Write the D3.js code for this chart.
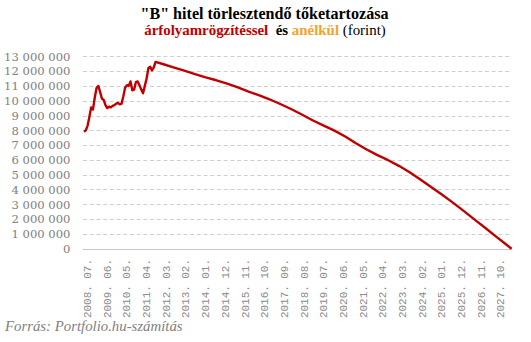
<!DOCTYPE html>
<html>
<head>
<meta charset="utf-8">
<script src="https://cdn.jsdelivr.net/npm/d3@7"></script>
<style>
  html, body { margin: 0; padding: 0; background: #fff; }
  svg { display: block; }
</style>
</head>
<body>
<svg id="chart" width="531" height="342"></svg>
<script>
// ---- Data ----
const months = [
  "2008.07","2008.08","2008.09","2008.10","2008.11","2008.12",
  "2009.01","2009.02","2009.03","2009.04","2009.05","2009.06",
  "2009.07","2009.08","2009.09","2009.10","2009.11","2009.12",
  "2010.01","2010.02","2010.03","2010.04","2010.05","2010.06",
  "2010.07","2010.08","2010.09","2010.10","2010.11","2010.12",
  "2011.01","2011.02","2011.03","2011.04","2011.05","2011.06",
  "2011.07","2011.08","2011.09","2011.10","2011.11",
  "2012.03","2012.09","2013.03","2013.09","2014.03","2014.09",
  "2015.03","2015.09","2016.03","2016.09","2017.03","2017.09",
  "2018.03","2018.09","2019.03","2019.09","2020.03","2020.09",
  "2021.03","2021.09","2022.03","2022.09","2023.03","2023.09",
  "2024.03","2024.09","2025.03","2025.09","2026.03","2026.09",
  "2027.03","2027.09","2028.03","2028.06"
];
const debt = [
  7900000, 8000000, 8300000, 8900000, 9550000, 9400000,
  10200000, 10850000, 11000000, 10600000, 10150000, 10050000,
  9700000, 9500000, 9600000, 9550000, 9650000, 9700000,
  9800000, 9850000, 9750000, 9800000, 10300000, 10900000,
  11050000, 11000000, 11300000, 10700000, 10750000, 11250000,
  11300000, 11050000, 10750000, 10500000, 11000000, 11500000,
  12200000, 12300000, 12050000, 12250000, 12620000,
  12480000, 12250000, 12030000, 11800000, 11580000, 11380000,
  11150000, 10900000, 10620000, 10360000, 10080000, 9760000,
  9420000, 9050000, 8660000, 8320000, 7980000, 7580000,
  7120000, 6700000, 6320000, 5980000, 5600000, 5170000,
  4670000, 4170000, 3660000, 3130000, 2570000, 2000000,
  1430000, 850000, 280000, 0
];
const xTickLabels = [
  "2008.07","2009.06","2010.05","2011.04","2012.03","2013.02","2014.01",
  "2014.12","2015.11","2016.10","2017.09","2018.08","2019.07","2020.06",
  "2021.05","2022.04","2023.03","2024.02","2025.01","2025.12","2026.11","2027.10"
];
const yTicks = [0,1000000,2000000,3000000,4000000,5000000,6000000,7000000,
  8000000,9000000,10000000,11000000,12000000,13000000];
const firstMonth = "2008.07", lastMonth = "2028.06";

// ---- Helpers ----
const monthIndex = s => {
  const [y, m] = s.split(".").map(Number);
  const [y0, m0] = firstMonth.split(".").map(Number);
  return (y - y0) * 12 + (m - m0);
};
const huLocale = d3.formatLocale({ decimal: ",", thousands: "\u00a0", grouping: [3], currency: ["", " Ft"] });
const fmt = huLocale.format(",");

const svg = d3.select("#chart");

const x = d3.scaleLinear()
  .domain([0, monthIndex(lastMonth)])
  .range([84, 511.6]);
const y = d3.scaleLinear()
  .domain([0, 13000000])
  .range([248.7, 56.3]);

// ---- Gridlines ----
const grid = svg.append("g");
grid.selectAll("line.grid")
  .data(yTicks.filter(d => d > 0))
  .join("line")
  .attr("x1", 83).attr("x2", 512)
  .attr("y1", d => Math.round(y(d)) + 0.5)
  .attr("y2", d => Math.round(y(d)) + 0.5)
  .attr("stroke", "#cfcfcf")
  .attr("stroke-width", 1)
  .attr("stroke-dasharray", "4,2.7");

// zero axis line
svg.append("line")
  .attr("x1", 83).attr("x2", 512)
  .attr("y1", Math.round(y(0)) + 0.5).attr("y2", Math.round(y(0)) + 0.5)
  .attr("stroke", "#c8c8c8").attr("stroke-width", 1);

// ---- Y axis labels ----
const yAxis = d3.axisLeft(y).tickValues(yTicks).tickFormat(fmt).tickSize(0).tickPadding(0);
const yg = svg.append("g").attr("transform", "translate(70.5,0)").call(yAxis)
  .attr("font-family", "'DejaVu Serif', serif")
  .attr("font-size", "11.6px");
yg.select(".domain").remove();
yg.selectAll("text")
  .style("font-family", "'DejaVu Serif', serif")
  .style("font-size", "11.6px")
  .attr("fill", "#808080");

// ---- X axis labels ----
const xAxis = d3.axisBottom(x)
  .tickValues(xTickLabels.map(monthIndex))
  .tickFormat((d, i) => xTickLabels[i].replace(".", ". ") + ".")
  .tickSize(0).tickPadding(0);
const xg = svg.append("g").attr("transform", "translate(2.7,0)").call(xAxis)
  .attr("font-family", "'Liberation Mono', 'Courier New', monospace")
  .attr("font-size", "11px");
xg.select(".domain").remove();
xg.selectAll("text")
  .style("font-family", "'Liberation Mono', 'Courier New', monospace")
  .style("font-size", "11px")
  .attr("fill", "#8c8c8c")
  .attr("text-anchor", "end")
  .attr("dy", "0.35em")
  .attr("textLength", 59)
  .attr("lengthAdjust", "spacing")
  .attr("transform", "translate(0,259) rotate(-90)")
  .attr("y", 0).attr("x", 0);

// ---- Line ----
const pts = months.map((m, i) => ({ i: monthIndex(m), v: debt[i] }));
svg.append("path")
  .datum(pts)
  .attr("fill", "none")
  .attr("stroke", "#c00000")
  .attr("stroke-width", 2.4)
  .attr("stroke-linejoin", "round")
  .attr("d", d3.line().x(d => x(d.i)).y(d => y(d.v)));

// ---- Titles ----
const serif = "'Liberation Serif', 'Times New Roman', serif";
svg.append("text")
  .attr("x", 264.5).attr("y", 19)
  .attr("text-anchor", "middle")
  .attr("font-family", serif).attr("font-weight", "bold").attr("font-size", "16.1px")
  .attr("fill", "#000")
  .text("\"B\" hitel törlesztendő tőketartozása");

const t2 = svg.append("text")
  .attr("x", 265).attr("y", 35)
  .attr("text-anchor", "middle")
  .attr("font-family", serif).attr("font-size", "14.9px")
  .attr("xml:space", "preserve");
t2.append("tspan").attr("font-weight", "bold").attr("fill", "#c00000").text("árfolyamrögzítéssel");
t2.append("tspan").attr("font-weight", "bold").attr("fill", "#000").text("  és ");
t2.append("tspan").attr("font-weight", "bold").attr("fill", "#f2a42a").text("anélkül");
t2.append("tspan").attr("fill", "#000").text(" (forint)");

// ---- Source ----
svg.append("text")
  .attr("x", 5).attr("y", 331)
  .attr("font-family", serif).attr("font-style", "italic").attr("font-size", "14.8px")
  .attr("fill", "#7f7f7f")
  .text("Forrás: Portfolio.hu-számítás");
</script>
</body>
</html>
